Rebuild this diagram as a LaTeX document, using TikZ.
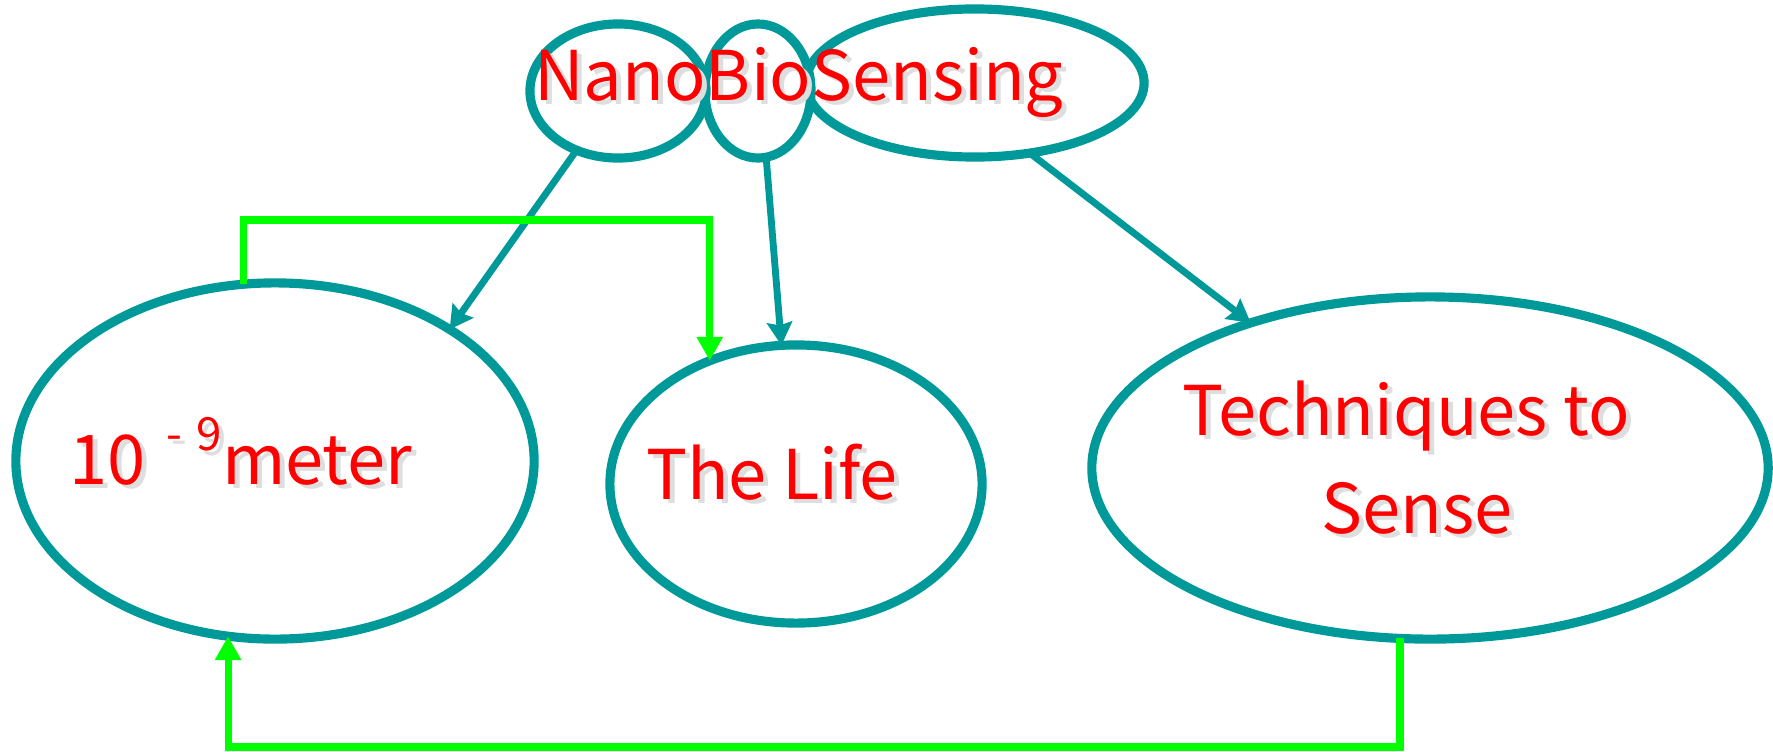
\documentclass[tikz,border=0pt]{standalone}
\usepackage{fontspec}
\setmainfont{Noto Sans CJK JP}
\usepackage{xcolor}
\usepackage{tikz}
\usetikzlibrary{
	arrows.meta,shapes
}
\definecolor{tealline}{RGB}{0,153,153}
\definecolor{loopgreen}{RGB}{0,255,0}
\newcommand{\softshadow}[1]{\makebox[0pt][l]{\hspace{1.4pt}\raisebox{-1.4pt}{\color{black!13}#1}}#1}
\tikzset{
	bubble/.style={draw=tealline, line width=2.6pt, ellipse, inner sep=0pt, outer sep=0pt},
	redtext/.style={text=red, font=\fontsize{19.5}{24}\selectfont, inner sep=0pt},
	loopline/.style={draw=loopgreen, line width=2pt, -{Triangle[length=2.4mm,width=2.5mm]}}
}
\begin{document}
\begin{tikzpicture}[x=0.01cm,y=-0.01cm]
		\useasboundingbox (0,0) rectangle (1773,751);
		\node[bubble, minimum width=1.76cm, minimum height=1.34cm] (nano) at (618,91) {};
		\node[bubble, minimum width=1.06cm, minimum height=1.34cm] (bio) at (758,91) {};
		\node[bubble, minimum width=3.38cm, minimum height=1.48cm] (sens) at (975,83) {};
		\node[bubble, minimum width=5.18cm, minimum height=3.56cm] (meter) at (275,461) {};
		\node[bubble, minimum width=3.72cm, minimum height=2.78cm] (life) at (796,484) {};
		\node[bubble, minimum width=6.76cm, minimum height=3.42cm] (tech) at (1430,468) {};
		%
		\node[redtext, anchor=base] (title) at (799,100) {\softshadow{NanoBioSensing}};
		\node[redtext, anchor=base] (metertext) at (241,484)
			{\softshadow{10\hspace{6pt}\raisebox{9.5pt}{\fontsize{13}{13}\selectfont -\hspace{4pt}9}meter}};
		\node[redtext, anchor=base] (lifetext) at (772,499) {\softshadow{The Life}};
		\node[redtext, anchor=base] (techtext) at (1406,435) {\softshadow{Techniques to}};
		\node[redtext, anchor=base] (sensetext) at (1417,533) {\softshadow{Sense}};
		%
		\coordinate (gtop) at (500,220);
		\coordinate (gbot) at (800,747);
		%
		\path[->, tealline, line width=1.95pt, >={Stealth[length=2.3mm,width=2.5mm,inset=0.3mm]}]
		% from the three parts of the word
		(nano.235) edge (meter.37)
		(bio.277) edge (life.96)
		(sens.308) edge (tech.141);
		% green loops
		\draw[loopline] (meter.100) |- (gtop) -| (life.125);
		\draw[loopline] (tech.260) |- (gbot) -| (meter.255);
	\end{tikzpicture}
\end{document}
